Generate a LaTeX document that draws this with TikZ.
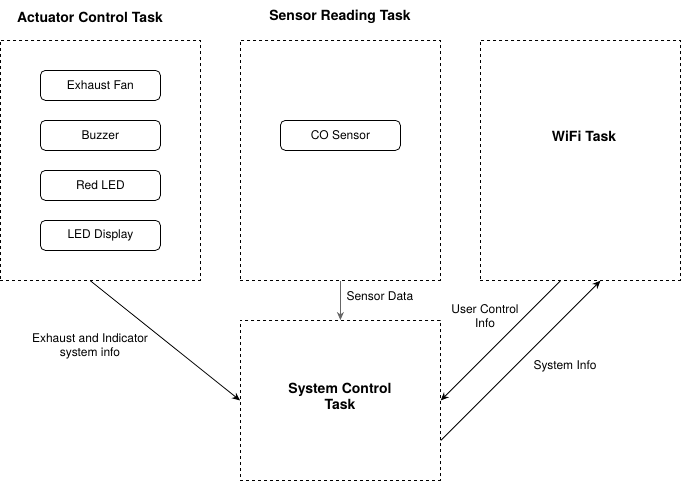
\documentclass[tikz,border=0pt]{standalone}
\usepackage{fontspec}
\setmainfont{TeX Gyre Heros}
\usetikzlibrary{arrows.meta}
\begin{document}
\begin{tikzpicture}[x=1pt,y=-1pt,
  font=\fontsize{12}{14}\selectfont,
  taskbox/.style={draw, line width=0.8pt, dash pattern=on 3pt off 3pt, minimum width=200pt, minimum height=240pt, anchor=north west, inner sep=0pt},
  itembox/.style={draw, line width=0.8pt, rounded corners=5pt, minimum width=120pt, minimum height=30pt, anchor=north west, inner sep=0pt},
  title/.style={font=\fontsize{14}{16}\selectfont\bfseries},
  flow/.style={line width=0.8pt, -{Stealth[length=8pt,width=7pt,inset=2.5pt]}},
  lbl/.style={align=center, font=\fontsize{12}{14}\selectfont}
]
\useasboundingbox (0,0) rectangle (682,482);
% task boxes
\node[taskbox] (act) at (0,40) {};
\node[taskbox] (sen) at (240,40) {};
\node[taskbox] (wifi) at (480,40) {};
\node[taskbox, minimum height=160pt] (sys) at (240,320) {};
% titles
\node[title] (actt) at (90,17) {Actuator Control Task};
\node[title] (sent) at (340,17) {Sensor Reading Task};
\node[title] (wifit) at (584,136) {WiFi Task};
\node[title, align=center] (syst) at (340,396) {System Control\\Task};
% items
\node[itembox] (fan) at (40,70) {Exhaust Fan};
\node[itembox] (buz) at (40,120) {Buzzer};
\node[itembox] (red) at (40,170) {Red LED};
\node[itembox] (disp) at (40,220) {LED Display};
\node[itembox] (co) at (280,120) {CO Sensor};
% connectors
\draw[flow] ([xshift=-10pt]act.south) -- (sys.west);
\draw[flow, draw=black!60] (sen.south) -- (sys.north);
\draw[flow] ([xshift=-20pt]wifi.south) -- (sys.east);
\draw[flow] ([yshift=-40pt]sys.east) -- ([xshift=20pt]wifi.south);
% labels
\node[lbl] (l1) at (90,346) {Exhaust and Indicator\\system info};
\node[lbl, anchor=west] (l2) at (343,296) {Sensor Data};
\node[lbl] (l3) at (485,316) {User Control\\Info};
\node[lbl] (l4) at (565,366) {System Info};
\end{tikzpicture}
\end{document}
